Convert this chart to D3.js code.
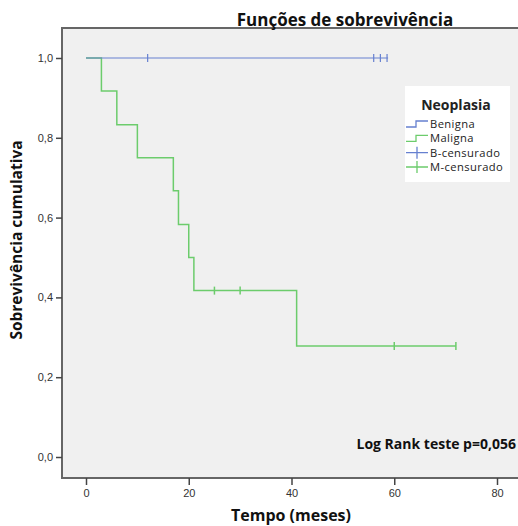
<!DOCTYPE html>
<html>
<head>
<meta charset="utf-8">
<script src="https://cdn.jsdelivr.net/npm/d3@7"></script>
<style>
  body { margin: 0; background: #fff; }
  svg { display: block; font-family: "Open Sans", "DejaVu Sans", sans-serif; }
</style>
</head>
<body>
<svg id="chart" width="518" height="526"></svg>
<script>
// Kaplan-Meier steps
const benignaTempo = [0, 58.8]
const benignaSobrev = [1, 1]
const benignaCensura = [12, 56, 57.3, 58.6]

const malignaTempo = [0, 3, 6, 10, 17, 18, 20, 21, 41, 72]
const malignaSobrev = [1, 0.917, 0.833, 0.75, 0.667, 0.583, 0.5, 0.417, 0.278, 0.278]
const malignaCensura = [[25, 0.417], [30, 0.417], [60, 0.278], [72, 0.278]]

const xTicks = [0, 20, 40, 60, 80]
const yTicks = [0, 0.2, 0.4, 0.6, 0.8, 1.0]
const legendItems = ['Benigna', 'Maligna', 'B-censurado', 'M-censurado']

const azul = '#6680d0', verde = '#6ccc6c'

const svg = d3.select('#chart')

const x = d3.scaleLinear().domain([0, 80]).range([86, 497])
const y = d3.scaleLinear().domain([0, 1]).range([457, 58])

// plot frame
svg.append('rect')
    .attr('x', 62).attr('y', 28)
    .attr('width', 470).attr('height', 450)
    .attr('fill', '#f0f0f0')
    .attr('stroke', '#666').attr('stroke-width', 2)

const fmt = d => d3.format('.1f')(d).replace('.', ',')

const yAxis = svg.append('g')
    .attr('transform', 'translate(62,0)')
    .call(d3.axisLeft(y).tickValues(yTicks).tickFormat(fmt).tickSize(6).tickPadding(3))
yAxis.select('.domain').remove()
yAxis.selectAll('line').attr('stroke', '#444').attr('stroke-width', 1.5)
yAxis.selectAll('text').attr('font-size', 11).attr('fill', '#333')

const xAxis = svg.append('g')
    .attr('transform', 'translate(0,478)')
    .call(d3.axisBottom(x).tickValues(xTicks).tickSize(7).tickPadding(4))
xAxis.select('.domain').remove()
xAxis.selectAll('line').attr('stroke', '#444').attr('stroke-width', 1.5)
xAxis.selectAll('text').attr('font-size', 11).attr('fill', '#333')

const linha = d3.line()
    .x(d => x(d[0])).y(d => y(d[1]))
    .curve(d3.curveStepAfter)

const malignaPts = malignaTempo.map((t, i) => [t, malignaSobrev[i]])
const benignaPts = benignaTempo.map((t, i) => [t, benignaSobrev[i]])

svg.append('path').datum(malignaPts)
    .attr('d', linha).attr('fill', 'none')
    .attr('stroke', verde).attr('stroke-width', 1.5)

svg.append('path').datum(benignaPts)
    .attr('d', linha).attr('fill', 'none')
    .attr('stroke', azul).attr('stroke-width', 1.2)

// censor marks
svg.selectAll('.cb').data(benignaCensura).enter().append('line')
    .attr('x1', d => x(d)).attr('x2', d => x(d))
    .attr('y1', y(1) - 4).attr('y2', y(1) + 4)
    .attr('stroke', azul).attr('stroke-width', 1.2)

svg.selectAll('.cm').data(malignaCensura).enter().append('line')
    .attr('x1', d => x(d[0])).attr('x2', d => x(d[0]))
    .attr('y1', d => y(d[1]) - 4).attr('y2', d => y(d[1]) + 4)
    .attr('stroke', verde).attr('stroke-width', 1.5)

// titles
svg.append('text')
    .attr('x', 345).attr('y', 26)
    .attr('text-anchor', 'middle')
    .attr('font-size', 17).attr('font-weight', 'bold').attr('fill', '#111')
    .text('Funções de sobrevivência')

svg.append('text')
    .attr('x', 291).attr('y', 521)
    .attr('text-anchor', 'middle')
    .attr('font-size', 16).attr('font-weight', 'bold').attr('fill', '#111')
    .text('Tempo (meses)')

svg.append('text')
    .attr('transform', 'translate(22,240) rotate(-90)')
    .attr('text-anchor', 'middle')
    .attr('font-size', 15.5).attr('font-weight', 'bold').attr('fill', '#111')
    .text('Sobrevivência cumulativa')

svg.append('text')
    .attr('x', 516).attr('y', 449)
    .attr('text-anchor', 'end')
    .attr('font-size', 14).attr('font-weight', 'bold').attr('fill', '#111')
    .text('Log Rank teste p=0,056')

// legend
const leg = svg.append('g')
leg.append('rect')
    .attr('x', 405).attr('y', 86).attr('width', 105).attr('height', 96)
    .attr('fill', '#fff')
leg.append('text')
    .attr('x', 456).attr('y', 110)
    .attr('text-anchor', 'middle')
    .attr('font-size', 14).attr('font-weight', 'bold').attr('fill', '#222')
    .text('Neoplasia')

const legY = d3.scalePoint().domain(legendItems).range([124, 167])
const legCor = d => d[0] === 'B' ? azul : verde

legendItems.forEach((d, i) => {
    const yy = legY(d)
    if (i < 2) {
        leg.append('path')
            .attr('d', `M406,${yy + 3}H416V${yy - 3}H428`)
            .attr('fill', 'none').attr('stroke', legCor(d)).attr('stroke-width', 1.3)
    } else {
        leg.append('path')
            .attr('d', `M406,${yy}H428M417,${yy - 6}V${yy + 6}`)
            .attr('fill', 'none').attr('stroke', legCor(d)).attr('stroke-width', 1.3)
    }
    leg.append('text')
        .attr('x', 430).attr('y', yy + 4)
        .attr('font-size', 11.2).attr('letter-spacing', 0.4).attr('fill', '#222')
        .text(d)
})
</script>
</body>
</html>
